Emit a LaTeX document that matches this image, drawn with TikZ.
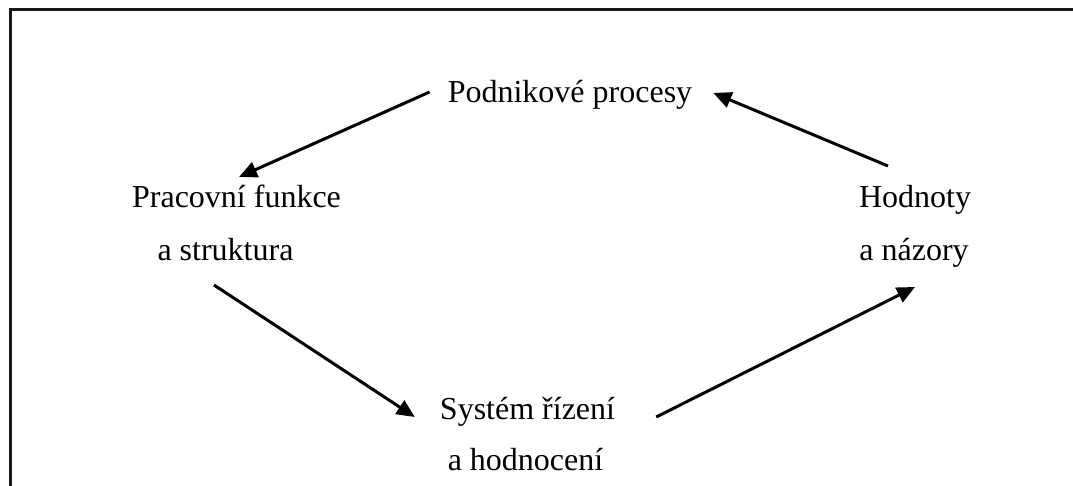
\documentclass[tikz,border=0pt]{standalone}
\usepackage{fontspec}
\setmainfont{Liberation Serif}
\usetikzlibrary{arrows.meta,calc}
\begin{document}
\begin{tikzpicture}[x=1pt,y=-1pt,
  lbl/.style={inner sep=0pt,anchor=base,font=\fontsize{32}{40}\selectfont},
  arr/.style={line width=3pt,-{Triangle[length=18pt,width=16pt]}},
  frame/.style={line width=3pt,draw=black!90}]
\useasboundingbox (0,0) rectangle (1073,486);
\draw[frame] (10,487) -- (10,10) -- (1074,10);
\node[lbl] (pp) at (570,103) {Podnikové procesy};
\node[lbl] (pf1) at (236.5,208) {Pracovní funkce};
\node[lbl] (pf2) at (225.5,261) {a struktura};
\node[lbl] (hn1) at (915,208) {Hodnoty};
\node[lbl] (hn2) at (914,261) {a názory};
\node[lbl] (sr1) at (527.5,419) {Systém řízení};
\node[lbl] (sr2) at (525.5,470) {a hodnocení};
\draw[arr] ($(pp.base west)+(-18,-11)$) -- ($(pf1.base)+(2.5,-31)$);
\draw[arr] ($(hn1.base)+(-27,-42)$) -- ($(pp.base east)+(21,-10)$);
\draw[arr] ($(pf2.base)+(-11.5,24)$) -- ($(sr1.base west)+(-25,-2)$);
\draw[arr] ($(sr1.base east)+(41,-2)$) -- ($(hn2.base)+(1,26)$);
\end{tikzpicture}
\end{document}
